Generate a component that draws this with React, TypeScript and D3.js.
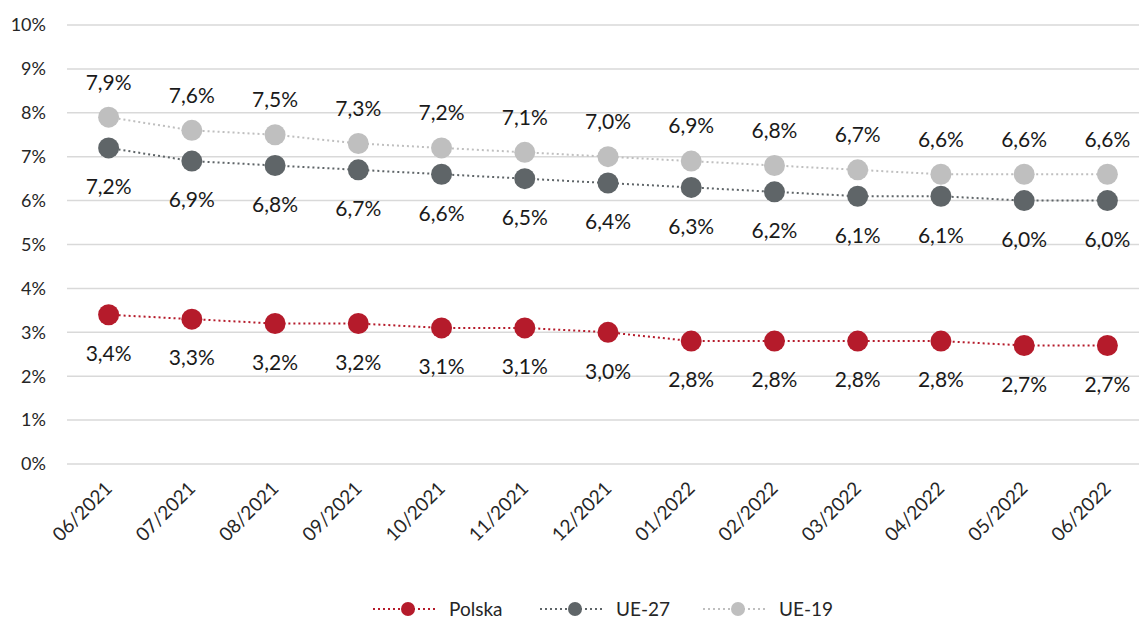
import React from 'react';
import * as d3 from 'd3';

const months = ['06/2021', '07/2021', '08/2021', '09/2021', '10/2021', '11/2021', '12/2021', '01/2022', '02/2022', '03/2022', '04/2022', '05/2022', '06/2022'];
const polska = [3.4, 3.3, 3.2, 3.2, 3.1, 3.1, 3.0, 2.8, 2.8, 2.8, 2.8, 2.7, 2.7];
const ue27 = [7.2, 6.9, 6.8, 6.7, 6.6, 6.5, 6.4, 6.3, 6.2, 6.1, 6.1, 6.0, 6.0];
const ue19 = [7.9, 7.6, 7.5, 7.3, 7.2, 7.1, 7.0, 6.9, 6.8, 6.7, 6.6, 6.6, 6.6];
const yTicks = [0, 1, 2, 3, 4, 5, 6, 7, 8, 9, 10];

const series = [
  { name: 'Polska', values: polska, color: '#B51B2B', labelDy: 39 },
  { name: 'UE-27', values: ue27, color: '#5F6568', labelDy: 39 },
  { name: 'UE-19', values: ue19, color: '#BFBFBF', labelDy: -35 },
];

const width = 1139;
const height = 619;
const font = 'Lato, "Open Sans", sans-serif';

export default function App() {
  const x = d3.scaleBand().domain(months).range([67, 1149]);
  const y = d3.scaleLinear().domain([0, 10]).range([464, 25]);
  const cx = (i: number) => (x(months[i]) as number) + x.bandwidth() / 2;
  const fmt = (v: number) => v.toFixed(1).replace('.', ',') + '%';

  const line = d3.line<number>()
    .x((_, i) => cx(i))
    .y((d) => y(d));

  const legendItems = [
    { s: series[0], x: 373 },
    { s: series[1], x: 540 },
    { s: series[2], x: 703 },
  ];

  return (
    <svg width={width} height={height} style={{ position: 'absolute', left: 0, top: 0, background: '#fff' }} fontFamily={font}>
      {yTicks.map((t) => (
        <g key={t}>
          <line x1={67} x2={1139} y1={y(t)} y2={y(t)} stroke="#d9d9d9" strokeWidth={1.5} />
          <text x={46} y={y(t)} dy="0.35em" textAnchor="end" fontSize={18} fill="#262626">{t}%</text>
        </g>
      ))}
      {months.map((m, i) => (
        <text key={m} transform={`translate(${cx(i)},${485}) rotate(-45)`} textAnchor="end" dy="0.35em" fontSize={19} fill="#262626">{m}</text>
      ))}
      {series.map((s) => (
        <g key={s.name}>
          <path d={line(s.values) || ''} fill="none" stroke={s.color} strokeWidth={2} strokeDasharray="2,3" />
          {s.values.map((v, i) => (
            <circle key={i} cx={cx(i)} cy={y(v)} r={10.5} fill={s.color} />
          ))}
          {s.values.map((v, i) => (
            <text key={'l' + i} x={cx(i)} y={y(v) + s.labelDy} dy="0.35em" textAnchor="middle" fontSize={21} fill="#1a1a1a">{fmt(v)}</text>
          ))}
        </g>
      ))}
      {legendItems.map(({ s, x: lx }) => (
        <g key={s.name} transform={`translate(${lx},609)`}>
          <line x1={0} x2={64} y1={0} y2={0} stroke={s.color} strokeWidth={2} strokeDasharray="2,3" />
          <circle cx={35} cy={0} r={7} fill={s.color} />
          <text x={76} y={0} dy="0.35em" fontSize={19} fill="#262626">{s.name}</text>
        </g>
      ))}
    </svg>
  );
}
